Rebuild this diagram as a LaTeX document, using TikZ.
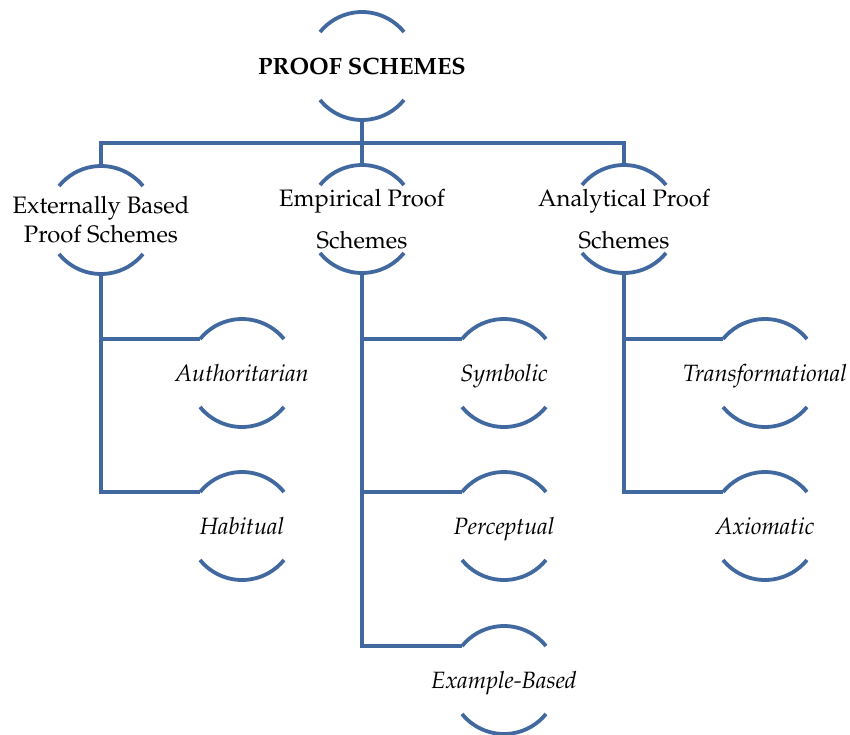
\documentclass[tikz,border=0pt]{standalone}
\usepackage[T1]{fontenc}
\usepackage{mathpazo}
\definecolor{linkblue}{HTML}{41699F}
\tikzset{
  link/.style={draw=linkblue, line width=3.8pt},
  lbl/.style={anchor=center, align=center, inner sep=0pt, font=\fontsize{23.8}{29}\selectfont},
  ilbl/.style={lbl, text height=20pt, text depth=4pt, font=\fontsize{23.6}{29}\selectfont\itshape},
}
\begin{document}
\begin{tikzpicture}[x=1pt,y=1pt]
\useasboundingbox (0,0) rectangle (850,-735);
% nodes
\node[lbl, font=\fontsize{23.6}{29}\selectfont\bfseries] (root) at (362,-66) {PROOF SCHEMES};
\node[lbl] (ext) at (101,-220) {Externally Based\\Proof Schemes};
\node[lbl] (emp) at (362,-219) {Empirical Proof\\[13pt]Schemes};
\node[lbl] (ana) at (624,-219) {Analytical Proof\\[13pt]Schemes};
\node[ilbl] (auth) at (242,-373) {Authoritarian};
\node[ilbl] (hab) at (242,-526) {Habitual};
\node[ilbl] (sym) at (504,-373) {Symbolic};
\node[ilbl] (per) at (504,-526) {Perceptual};
\node[ilbl] (exa) at (504,-680) {Example-Based};
\node[ilbl] (tra) at (765,-373) {Transformational};
\node[ilbl] (axi) at (765,-526) {Axiomatic};
% arcs
\foreach \n in {root,ext,emp,ana,auth,hab,sym,per,exa,tra,axi}{
  \draw[link] ([shift={(39:54)}]\n.center) arc[start angle=39,end angle=141,radius=54];
  \draw[link] ([shift={(219:54)}]\n.center) arc[start angle=219,end angle=321,radius=54];
}
% connectors
\coordinate (bar) at (362,-143);
\draw[link] ([yshift=-54pt]root.center) -- (bar);
\draw[link] ([yshift=54pt]ext.center) |- (bar);
\draw[link] ([yshift=54pt]ana.center) |- (bar);
\draw[link] (bar) -- ([yshift=54pt]emp.center);
\draw[link] ([yshift=-54pt]ext.center) |- ([shift={(141:54)}]auth.center);
\draw[link] ([yshift=-54pt]ext.center) |- ([shift={(141:54)}]hab.center);
\draw[link] ([yshift=-54pt]emp.center) |- ([shift={(141:54)}]sym.center);
\draw[link] ([yshift=-54pt]emp.center) |- ([shift={(141:54)}]per.center);
\draw[link] ([yshift=-54pt]emp.center) |- ([shift={(141:54)}]exa.center);
\draw[link] ([yshift=-54pt]ana.center) |- ([shift={(141:54)}]tra.center);
\draw[link] ([yshift=-54pt]ana.center) |- ([shift={(141:54)}]axi.center);
\end{tikzpicture}
\end{document}
